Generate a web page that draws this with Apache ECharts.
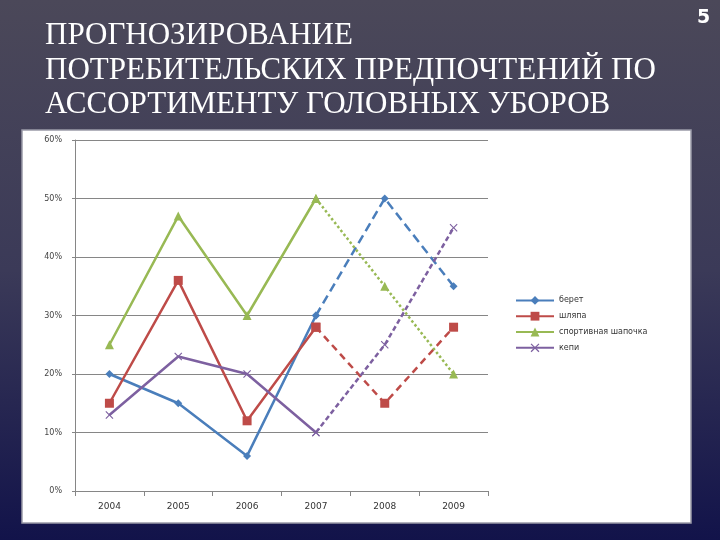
<!DOCTYPE html>
<html lang="ru">
<head>
<meta charset="UTF-8">
<title>Прогнозирование</title>
<script src="https://cdn.jsdelivr.net/npm/echarts@6/dist/echarts.min.js"></script>
<style>
  html, body { margin: 0; padding: 0; }
  #main { width: 720px; height: 540px; }
</style>
</head>
<body>
<div id="main"></div>
<script>
// данные с картинки, 2004-2007 факт, 2008-2009 прогноз (пунктир)
var years = ['2004', '2005', '2006', '2007', '2008', '2009'];
var names = ['берет', 'шляпа', 'спортивная шапочка', 'кепи'];
var beret = [20, 15, 6, 30, 50, 35];
var hat = [15, 36, 12, 28, 15, 28];
var sportCap = [25, 47, 30, 50, 35, 20];
var kepi = [13, 23, 20, 10, 25, 45];
var yTicks = [0, 10, 20, 30, 40, 50, 60];
var lastFact = 3;

var colors = ['#4a7ebb', '#be4b48', '#98b954', '#7d60a0'];
var symbols = ['diamond', 'rect', 'triangle',
  'path://M0,1L1,0L5,4L9,0L10,1L6,5L10,9L9,10L5,6L1,10L0,9L4,5Z'];
var symbolSizes = [8, 9, 9, 8];
var dashes = [[9, 5], [7, 5], 'dotted', [5, 3]];
var allData = [beret, hat, sportCap, kepi];

var series = [];
allData.forEach(function (vals, i) {
  var fact = vals.map(function (v, k) { return k <= lastFact ? v : '-'; });
  var prog = vals.map(function (v, k) { return k >= lastFact ? v : '-'; });
  var common = {
    name: names[i],
    type: 'line',
    symbol: symbols[i],
    symbolSize: symbolSizes[i],
    itemStyle: { color: colors[i] },
    z: 3
  };
  series.push(Object.assign({}, common, {
    data: fact,
    lineStyle: { color: colors[i], width: 2.5 }
  }));
  series.push(Object.assign({}, common, {
    data: prog,
    lineStyle: { color: colors[i], width: 2.5, type: dashes[i] }
  }));
});

var option = {
  animation: false,
  backgroundColor: {
    type: 'linear', x: 0, y: 0, x2: 0, y2: 1,
    colorStops: [
      { offset: 0, color: '#4b4859' },
      { offset: 0.5, color: '#3b3a58' },
      { offset: 1, color: '#12134a' }
    ]
  },
  graphic: [
    {
      type: 'rect', z: 0,
      shape: { x: 22, y: 130, width: 669, height: 393 },
      style: { fill: '#ffffff', stroke: '#9a9aa8', lineWidth: 1.5 }
    },
    {
      type: 'text', left: 45, top: 19,
      style: {
        text: 'ПРОГНОЗИРОВАНИЕ\nПОТРЕБИТЕЛЬСКИХ ПРЕДПОЧТЕНИЙ ПО\nАССОРТИМЕНТУ ГОЛОВНЫХ УБОРОВ',
        fill: '#ffffff',
        font: '31px "Liberation Serif"',
        lineHeight: 34.5
      }
    },
    {
      type: 'text', left: 697, top: 9,
      style: {
        text: '5',
        fill: '#ffffff',
        font: 'bold 19px "DejaVu Sans"'
      }
    }
  ],
  legend: {
    data: names,
    orient: 'vertical',
    left: 510,
    top: 291,
    itemGap: 7,
    itemWidth: 38,
    itemHeight: 11,
    textStyle: { fontSize: 8, color: '#333', fontFamily: 'DejaVu Sans' }
  },
  grid: { left: 75, right: 232, top: 140, bottom: 49 },
  xAxis: {
    type: 'category',
    data: years,
    boundaryGap: true,
    axisLine: { lineStyle: { color: '#868686' } },
    axisTick: { show: true, lineStyle: { color: '#868686' } },
    axisLabel: { color: '#333', fontSize: 9, margin: 11, fontFamily: 'DejaVu Sans' }
  },
  yAxis: {
    type: 'value',
    min: yTicks[0],
    max: yTicks[yTicks.length - 1],
    interval: 10,
    axisLine: { show: true, lineStyle: { color: '#868686' } },
    axisTick: { show: true, length: 3, lineStyle: { color: '#868686' } },
    axisLabel: { formatter: '{value}%', color: '#444', fontSize: 8, margin: 13, fontFamily: 'DejaVu Sans' },
    splitLine: { lineStyle: { color: '#868686', width: 1 } }
  },
  series: series
};

var chart = echarts.init(document.getElementById('main'));
chart.setOption(option);
</script>
</body>
</html>
